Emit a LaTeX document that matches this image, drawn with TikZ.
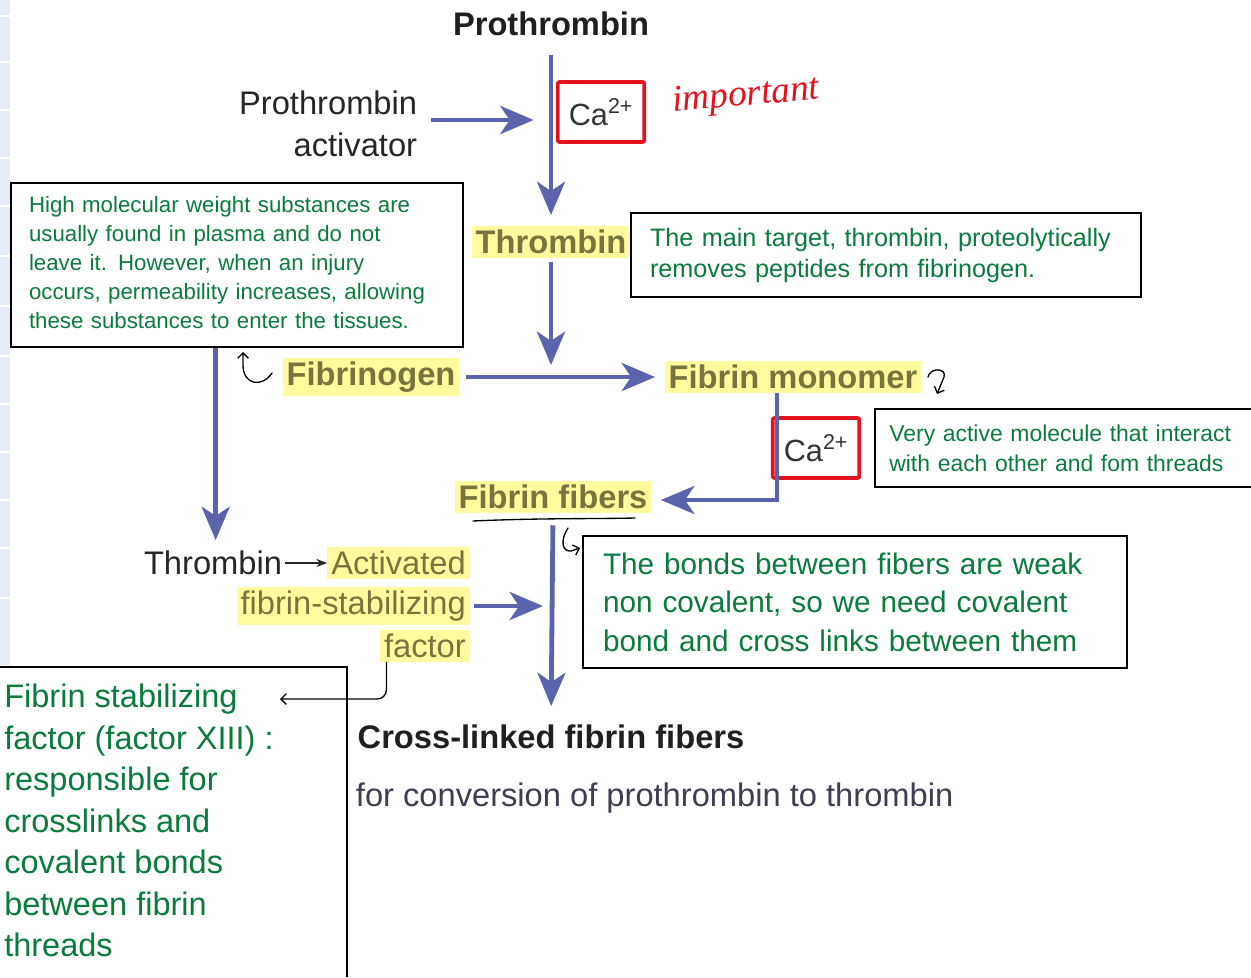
\documentclass[tikz,border=0pt]{standalone}
\usepackage{fontspec}
\setmainfont{Liberation Sans}
\newfontfamily\handfont{Liberation Serif}
\usetikzlibrary{arrows.meta,positioning,calc}
\definecolor{blueA}{HTML}{5B63AD}
\definecolor{greenA}{HTML}{0A7B3C}
\definecolor{redA}{HTML}{E3131E}
\definecolor{hiliteA}{HTML}{FFFB9E}
\definecolor{oliveA}{HTML}{77743E}
\definecolor{stripA}{HTML}{E5EBF7}
\definecolor{grayA}{HTML}{3E3E52}

\begin{document}
\begin{tikzpicture}[x=0.75pt, y=-0.75pt,
  head/.style={font=\fontsize{24.5}{31.5}\selectfont\bfseries, text=black!88, inner sep=2pt},
  plain/.style={font=\fontsize{24.5}{31.5}\selectfont, text=black!85, inner sep=2pt},
  hl/.style={fill=hiliteA, text=oliveA, inner sep=3pt},
  note/.style={draw=black, line width=1.4pt, text=greenA, align=left, inner ysep=0pt},
  cabox/.style={draw=redA, line width=2.8pt, rounded corners=1.5pt, minimum width=65pt, minimum height=45pt, inner sep=0pt, font=\fontsize{23}{25}\selectfont, text=black!80},
  flow/.style={draw=blueA, line width=3.6pt, -{Stealth[length=25pt, width=21pt, inset=7pt]}},
  pen/.style={draw=black, line width=1pt, line cap=round, line join=round},
  barb/.style={pen, -{Straight Barb[length=4pt, width=8pt]}}]
\useasboundingbox (0,0) rectangle (1251,977);
\fill[stripA] (0,0) rectangle (10,665);
\foreach \yy in {16,62,110,158,206,256,306,356,404,452,500,548,598}
  \draw[white, line width=1pt] (0,\yy) -- (10,\yy);

\node[head] (pro) at (551,24) {Prothrombin};
\node[plain, align=right, anchor=east] (act) at (420,124) {Prothrombin\\activator};
\node[cabox] (ca1) at (601,112) {Ca\textsuperscript{2+}};
\node[text=redA, font=\handfont\itshape\fontsize{28}{28}\selectfont, rotate=5, inner sep=0pt] (imp) at (746,97) {important};
\node[head, hl] (thr) at (551,242) {Thrombin};
\node[note, font=\fontsize{18.9}{23.25}\selectfont, inner xsep=14pt, text width=354pt, minimum height=63pt] (tgt) at (886,255)
  {The main target, thrombin, proteolytically\\removes peptides from fibrinogen.};
\node[note, font=\fontsize{16.7}{21.75}\selectfont, inner xsep=13.5pt, text width=312pt, minimum height=123pt] (hmw) at (237,265)
  {High molecular weight substances are\\usually found in plasma and do not\\leave it. However, when an injury\\occurs, permeability increases, allowing\\these substances to enter the tissues.\vspace{4pt}};
\node[head, hl] (fgn) at (371,377) {Fibrinogen};
\node[head, hl] (fmo) at (793,377) {Fibrin monomer};
\node[cabox] (ca2) at (816,448) {Ca\textsuperscript{2+}};
\node[note, font=\fontsize{17.2}{22.5}\selectfont, inner xsep=11pt, text width=262pt, minimum height=58.5pt] (va) at (1064,448)
  {Very active molecule that interact\\with each other and fom threads};
\node[head, hl] (ffb) at (553,497) {Fibrin fibers};
\node[note, font=\fontsize{22.3}{28.9}\selectfont, inner xsep=15pt, text width=378pt, minimum height=99pt] (bnd) at (855,602)
  {The bonds between fibers are weak\\non covalent, so we need covalent\\bond and cross links between them};
\node[plain] (thb2) at (213,563) {Thrombin};
\node[plain, hl, anchor=east] (actv) at (470,563) {Activated};
\node[plain, hl, anchor=east] (fsl) at (470,606) {fibrin-stabilizing};
\node[plain, hl, anchor=east] (fct) at (470,646) {factor};
\node[head] (csl) at (551,737) {Cross-linked fibrin fibers};
\node[plain, text=grayA, anchor=west] (conv) at (353,798) {for conversion of prothrombin to thrombin};
\node[text=greenA, align=left, anchor=north west, inner sep=0pt, font=\fontsize{24.4}{31.1}\selectfont] (xiii) at (4,684)
  {Fibrin stabilizing\\factor (factor XIII) :\\responsible for\\crosslinks and\\covalent bonds\\between fibrin\\threads};
\draw[line width=1.4pt] (0,667) -- (347,667) -- (347,977);

\coordinate (elb) at (777,500);
\coordinate (xtip) at (280,699);
\draw[flow, shorten <=12pt, shorten >=8pt] (pro.south) -- (thr.north);
\draw[flow, shorten <=8pt, shorten >=13pt] ([yshift=3pt]act.east) -- ([yshift=3pt]act.east -| pro);
\draw[flow, shorten <=3pt, shorten >=9pt] (thr.south) -- (thr |- fgn);
\draw[flow, shorten <=5pt, shorten >=7pt] (fgn.east) -- (fmo.west);
\draw[flow, shorten >=7pt] (fmo.south -| elb) -- (elb) -- (ffb.east |- elb);
\draw[flow, shorten <=9pt, shorten >=12pt] (ffb.south) -- (csl.north);
\draw[flow, shorten <=3pt, shorten >=6pt] (fsl.east) -- (fsl.east -| csl.north);
\draw[flow, shorten >=6pt] ([xshift=2pt]thb2 |- hmw.south) -- ([xshift=2pt]thb2.north);
\draw[-{Stealth[length=8pt, width=6pt]}, line width=1.3pt, black!85] (thb2.east) -- (actv.west);

\draw[pen] (473,521) .. controls (540,518) and (590,519) .. (635,518);
\draw[barb] (272,373) .. controls (262,388) and (243,385) .. (243,365) -- (243,352);
\draw[barb] (928,377) .. controls (930,367) and (947,368) .. (944,377) -- (937,394);
\draw[barb] (568,528) .. controls (560,540) and (562,552) .. (571,551) -- (580,548);
\draw[barb, rounded corners=7pt] ([xshift=5pt]fct.south west) |- (xtip);
\end{tikzpicture}
\end{document}
